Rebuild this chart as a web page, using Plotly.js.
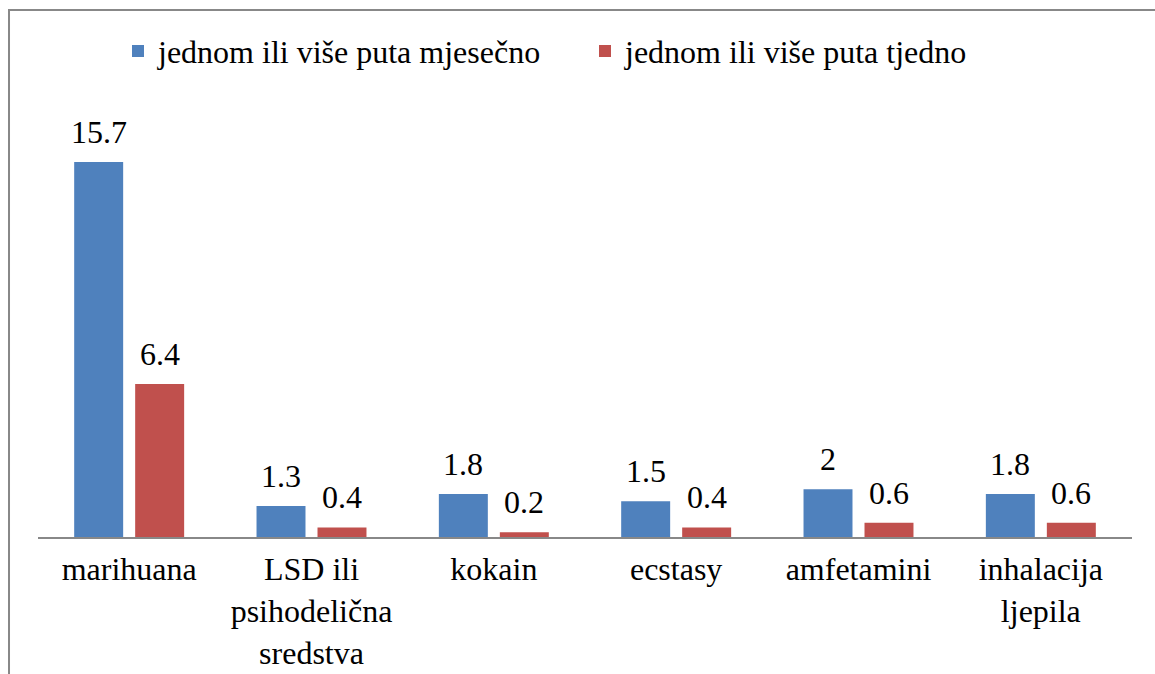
<!DOCTYPE html>
<html>
<head>
<meta charset="utf-8">
<script src="https://cdn.plot.ly/plotly-3.0.1.min.js"></script>
</head>
<body style="margin:0;background:#fff">
<div id="chart"></div>
<script>
const categories = ["marihuana", "LSD ili<br>psihodelična<br>sredstva", "kokain", "ecstasy", "amfetamini", "inhalacija<br>ljepila"];
const seriesNames = ["jednom ili više puta mjesečno", "jednom ili više puta tjedno"];
const monthly = [15.7, 1.3, 1.8, 1.5, 2, 1.8];
const weekly = [6.4, 0.4, 0.2, 0.4, 0.6, 0.6];

const F = "Liberation Serif";
const FS = 32;
const traces = [
  {type: "bar", name: seriesNames[0], x: categories, y: monthly, marker: {color: "#4F81BD"}, hoverinfo: "x+y"},
  {type: "bar", name: seriesNames[1], x: categories, y: weekly, marker: {color: "#C0504D"}, hoverinfo: "x+y"}
];
const annotations = [];
[monthly, weekly].forEach((vals, si) => {
  vals.forEach((v, i) => {
    annotations.push({x: categories[i], y: v, xref: "x", yref: "y", text: String(v), showarrow: false,
      xshift: si === 0 ? -30.5 : 30.5, yanchor: "bottom", yshift: 10,
      font: {family: F, size: FS}});
  });
});
const layout = {
  width: 1155, height: 674,
  margin: {l: 38, r: 23, t: 107, b: 137},
  paper_bgcolor: "#fff", plot_bgcolor: "#fff",
  font: {family: F, size: FS, color: "#000000"},
  barmode: "group", bargap: 0.331, bargroupgap: 0.197,
  xaxis: {showline: true, linecolor: "#888", linewidth: 2, ticks: "", ticklabelstandoff: 3, fixedrange: true},
  yaxis: {range: [0, 18], showgrid: false, zeroline: false, showline: false, showticklabels: false, ticks: "", fixedrange: true},
  showlegend: true,
  legend: {orientation: "h", x: 0.5, xanchor: "center", y: 1.13, yanchor: "middle", traceorder: "normal", entrywidth: 422, entrywidthmode: "pixels"},
  annotations: annotations,
  shapes: [{type: "rect", xref: "paper", yref: "paper", x0: -0.0265, x1: 1.2, y0: -0.6, y1: 1.2256, line: {color: "#888", width: 2}}]
};
Plotly.newPlot("chart", traces, layout, {displayModeBar: false});
</script>
</body>
</html>
